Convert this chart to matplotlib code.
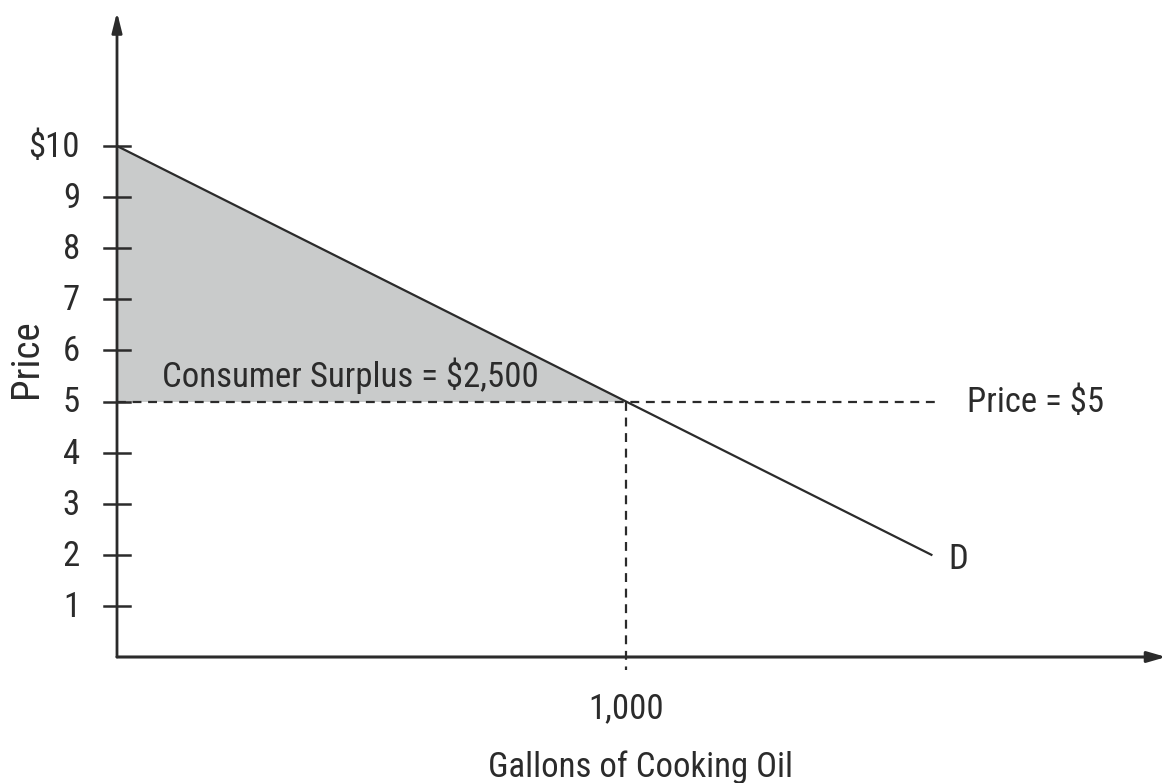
import matplotlib
matplotlib.use("Agg")
import matplotlib.pyplot as plt

plt.rcParams['font.family'] = ['Roboto Condensed', 'DejaVu Sans']

# Data
demand_q = [0, 1600]
demand_p = [10, 2]
market_price = 5
market_qty = 1000
y_ticks = [1, 2, 3, 4, 5, 6, 7, 8, 9, 10]
y_tick_labels = ["1", "2", "3", "4", "5", "6", "7", "8", "9", "$10"]
x_tick = 1000
x_tick_label = "1,000"
surplus_label = "Consumer Surplus = $2,500"
price_label = "Price = $5"
x_title = "Gallons of Cooking Oil"
y_title = "Price"
curve_label = "D"

W, H = 1167, 783
fig = plt.figure(figsize=(W / 100, H / 100), dpi=100)
ax = fig.add_axes([0, 0, 1, 1])
ox, oy = 117, 657
sx, sy = 0.509, 51.1
ax.set_xlim(-ox / sx, (W - ox) / sx)
ax.set_ylim(-(H - oy) / sy, oy / sy)
ax.axis("off")


def px(x):
    return (x - ox) / sx


def py(y):
    return (oy - y) / sy


ink = "#2b2b2b"
fs = 25

# shaded consumer surplus
ax.fill([0, 0, market_qty], [demand_p[0], market_price, market_price],
        color="#c9cbcb", lw=0, zorder=1)

# axes arrows
ax.annotate("", xy=(px(W - 1), 0), xytext=(0, 0),
            arrowprops=dict(arrowstyle="-|>,head_length=1.1,head_width=0.32",
                            color=ink, lw=2.2, shrinkA=0, shrinkB=0), zorder=3)
ax.annotate("", xy=(0, py(12)), xytext=(0, 0),
            arrowprops=dict(arrowstyle="-|>,head_length=1.2,head_width=0.3",
                            color=ink, lw=2.0, shrinkA=0, shrinkB=0), zorder=3)

# y ticks
tick_half = 13 / sx
for v, lab in zip(y_ticks, y_tick_labels):
    ax.plot([-tick_half, tick_half], [v, v], color=ink, lw=1.8, zorder=3)
    ax.text(px(80), v - 11 / sy, lab, ha="right", va="baseline",
            fontsize=fs, color=ink)

# demand line
ax.plot(demand_q, demand_p, color=ink, lw=1.6, zorder=4)

# dashed guides
ax.plot([0, 1607], [market_price, market_price], color=ink, lw=1.6,
        ls=(0, (4, 3)), zorder=2)
ax.plot([market_qty, market_qty], [market_price, -13 / sy], color=ink, lw=1.6,
        ls=(0, (4, 3)), zorder=2)

# labels
ax.text(x_tick, py(718), x_tick_label, ha="center", va="baseline",
        fontsize=fs, color=ink)
ax.text(px(640), py(777), x_title, ha="center", va="baseline",
        fontsize=fs, color=ink)
ax.text(px(37), py(359), y_title, rotation=90, rotation_mode="anchor",
        ha="center", va="baseline", fontsize=28, color=ink)
ax.text(px(162), py(387), surplus_label, ha="left", va="baseline",
        fontsize=fs, color=ink)
ax.text(px(967), py(412), price_label, ha="left", va="baseline",
        fontsize=fs, color=ink)
ax.text(px(948), py(569), curve_label, ha="left", va="baseline",
        fontsize=fs, color=ink)

fig.savefig("out.png", dpi=100, facecolor="white")
